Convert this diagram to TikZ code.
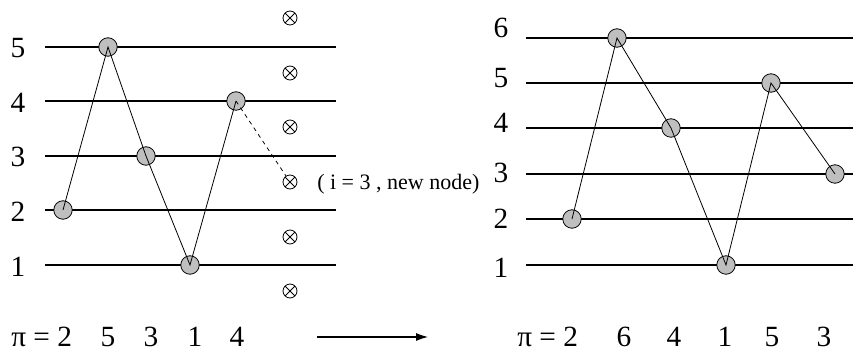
\documentclass[tikz,border=0pt]{standalone}
\usepackage{fontspec}
\setmainfont{Liberation Serif}
\usetikzlibrary{arrows.meta}
\begin{document}
\begin{tikzpicture}[x=0.75pt,y=-0.75pt,
  hline/.style={line width=0.8pt},
  dot/.style={circle,draw=black,fill=black!25,line width=0.6pt,minimum size=18.5*0.75pt,inner sep=0pt},
  xnode/.style={circle,draw=black,line width=0.6pt,minimum size=14*0.75pt,inner sep=0pt,
    path picture={\draw[line width=0.6pt] (path picture bounding box.north west)--(path picture bounding box.south east)
      (path picture bounding box.north east)--(path picture bounding box.south west);}},
  lab/.style={font=\fontsize{22}{26}\selectfont,inner sep=0pt},
  conn/.style={line width=0.6pt}]
\useasboundingbox (0,0) rectangle (854,352);
% ---- left diagram ----
\foreach \v/\y/\ty in {1/265/267,2/210/212,3/156/157,4/101/103,5/47/48}{
  \draw[hline] (45,\y) -- (336,\y);
  \node[lab] (ll\v) at (18,\ty) {\v};
}
\node[dot] (L2) at (63,210) {};
\node[dot] (L5) at (108,47) {};
\node[dot] (L3) at (146,156) {};
\node[dot] (L1) at (190,265) {};
\node[dot] (L4) at (236,101) {};
\draw[conn] (L2.center) -- (L5.center) -- (L3.center) -- (L1.center) -- (L4.center);
\foreach \i/\y in {1/291,2/237,3/182,4/127,5/73,6/18}{
  \node[xnode] (X\i) at (290,\y) {};
}
\draw[conn,dashed] (L4.center) -- (X3);
\node[font=\fontsize{16.5}{19}\selectfont,inner sep=0pt,anchor=west] (note) at (317,184) {( i = 3 , new node)};
% bottom left
\node[lab,anchor=west] (pil) at (11,337) {π = 2};
\node[lab] (bl5) at (108,337) {5};
\node[lab] (bl3) at (151,337) {3};
\node[lab] (bl1) at (195,337) {1};
\node[lab] (bl4) at (237,337) {4};
% arrow
\coordinate (a1) at (317,337);
\coordinate (a2) at (428,337);
\draw[line width=0.8pt,-{Latex[length=9pt,width=6pt]}] (a1) -- (a2);
% ---- right diagram ----
\foreach \v/\y/\ty in {1/265/268,2/219/219,3/174/173,4/128/123,5/83/78,6/38/28}{
  \draw[hline] (526,\y) -- (853,\y);
  \node[lab] (rl\v) at (501,\ty) {\v};
}
\node[dot] (R2) at (572,219) {};
\node[dot] (R6) at (617,38) {};
\node[dot] (R4) at (671,128) {};
\node[dot] (R1) at (726,265) {};
\node[dot] (R5) at (771,83) {};
\node[dot] (R3) at (835,174) {};
\draw[conn] (R2.center) -- (R6.center) -- (R4.center) -- (R1.center) -- (R5.center) -- (R3.center);
% bottom right
\node[lab,anchor=west] (pir) at (517,337) {π = 2};
\node[lab] (br6) at (624,337) {6};
\node[lab] (br4) at (674,337) {4};
\node[lab] (br1) at (725,337) {1};
\node[lab] (br5) at (772,337) {5};
\node[lab] (br3) at (824,337) {3};
\end{tikzpicture}
\end{document}
